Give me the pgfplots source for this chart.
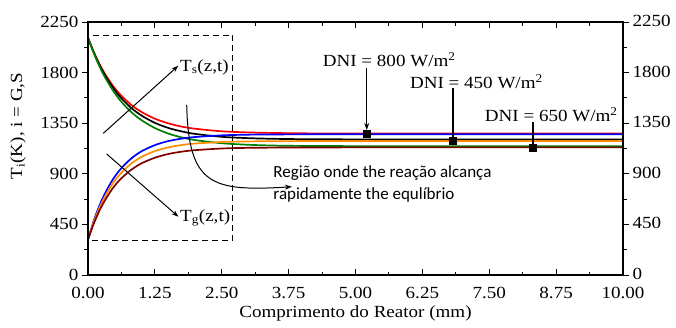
\documentclass[border=0pt]{standalone}
\usepackage{fontspec}
\setmainfont{Liberation Serif}[FakeStretch=1.12]
\newfontfamily\calib{Carlito}
\usepackage{pgfplots}
\pgfplotsset{compat=1.18}
\usetikzlibrary{arrows.meta}
\definecolor{corange}{RGB}{255,140,0}
\definecolor{cbrown}{RGB}{128,0,0}
\definecolor{cgreen}{RGB}{0,128,0}
\newcommand{\fs}{\fontsize{17}{20}\selectfont}
\pgfplotsset{base/.style={scale only axis, width=535pt, height=253pt,
  xmin=0, xmax=10, ymin=0, ymax=2250, at={(0,0)}, anchor=south west,
  tick label style={font=\fs}, /pgf/number format/assume math mode=true,
  /pgf/number format/1000 sep={},
  major tick length=6pt, minor tick length=3.5pt,
  every tick/.style={black, line width=0.9pt},
  axis line style={line width=1.1pt}}}
\begin{document}
\begin{tikzpicture}
\begin{axis}[base, tick align=inside,
  xtick={0,1.25,2.5,3.75,5,6.25,7.5,8.75,10},
  xticklabels={0.00,1.25,2.50,3.75,5.00,6.25,7.50,8.75,10.00},
  minor x tick num=1, ytick=\empty,
  xticklabel style={anchor=center, yshift=-17.5pt},
  xlabel={Comprimento do Reator (mm)},
  xlabel style={font=\fs, at={(axis description cs:0.5,-0.152)}, anchor=center},
  clip=false]
% T_s curves
\addplot[red, line width=1.7pt, smooth] coordinates {(0,2110) (0.1,1992) (0.2,1890) (0.3,1802) (0.45,1693) (0.6,1606) (0.8,1516) (1.0,1450) (1.25,1390) (1.5,1349) (1.75,1320) (2.0,1301) (2.5,1278) (3.0,1268) (3.5,1263) (4.0,1260) (5.0,1258) (6.0,1258) (8.0,1258) (10.0,1258)};
\addplot[black, line width=1.7pt, smooth] coordinates {(0,2110) (0.1,1988) (0.2,1882) (0.3,1791) (0.45,1677) (0.6,1584) (0.8,1489) (1.0,1418) (1.25,1353) (1.5,1308) (1.75,1277) (2.0,1255) (2.5,1229) (3.0,1217) (3.5,1211) (4.0,1208) (5.0,1206) (6.0,1205) (8.0,1205) (10.0,1205)};
\addplot[cgreen, line width=1.7pt, smooth] coordinates {(0,2110) (0.1,1982) (0.2,1870) (0.3,1773) (0.45,1653) (0.6,1554) (0.8,1453) (1.0,1377) (1.25,1307) (1.5,1258) (1.75,1224) (2.0,1200) (2.5,1172) (3.0,1158) (3.5,1151) (4.0,1148) (5.0,1146) (6.0,1145) (8.0,1145) (10.0,1145)};
% T_g curves
\addplot[blue, line width=1.7pt, smooth] coordinates {(0,315) (0.1,471) (0.2,601) (0.3,709) (0.45,839) (0.6,937) (0.8,1033) (1.0,1100) (1.25,1155) (1.5,1191) (1.75,1213) (2.0,1227) (2.5,1242) (3.0,1248) (3.5,1250) (4.0,1251) (5.0,1252) (6.0,1252) (8.0,1252) (10.0,1252)};
\addplot[corange, line width=1.7pt, smooth] coordinates {(0,315) (0.1,461) (0.2,582) (0.3,683) (0.45,805) (0.6,897) (0.8,988) (1.0,1050) (1.25,1102) (1.5,1135) (1.75,1156) (2.0,1169) (2.5,1183) (3.0,1188) (3.5,1190) (4.0,1191) (5.0,1192) (6.0,1192) (8.0,1192) (10.0,1192)};
\addplot[cbrown, line width=1.7pt, smooth] coordinates {(0,315) (0.1,447) (0.2,558) (0.3,650) (0.45,763) (0.6,849) (0.8,933) (1.0,993) (1.25,1043) (1.5,1076) (1.75,1097) (2.0,1110) (2.5,1125) (3.0,1131) (3.5,1133) (4.0,1134) (5.0,1135) (6.0,1135) (8.0,1135) (10.0,1135)};
% markers
\addplot[only marks, mark=square*, mark size=3.5pt, black] coordinates {(5.21,1255) (6.82,1192) (8.32,1135)};
% dashed box
\draw[line width=1pt, dash pattern=on 6pt off 4pt] (axis cs:0,305) rectangle (axis cs:2.71,2130);
% T labels and arrows
\draw[-{Stealth[length=7pt,width=5pt]}, line width=1pt] (axis cs:0.286,1260) -- (axis cs:1.688,1861);
\node[anchor=west, font=\fs, inner sep=1pt] at (axis cs:1.70,1850) {T\textsubscript{s}(z,t)};
\draw[-{Stealth[length=7pt,width=5pt]}, line width=1pt] (axis cs:0.35,1076) -- (axis cs:1.69,518);
\node[anchor=west, font=\fs, inner sep=1pt] at (axis cs:1.70,507) {T\textsubscript{g}(z,t)};
% DNI labels
\node[font=\fs] at (axis cs:5.63,1912) {DNI = 800 W/m\textsuperscript{2}};
\draw[-{Stealth[length=7pt,width=5pt]}, line width=1pt] (axis cs:5.21,1841) -- (axis cs:5.21,1290);
\node[font=\fs] at (axis cs:7.26,1716) {DNI = 450 W/m\textsuperscript{2}};
\draw[line width=1.3pt] (axis cs:6.82,1663) -- (axis cs:6.82,1200);
\node[font=\fs] at (axis cs:8.66,1423) {DNI = 650 W/m\textsuperscript{2}};
\draw[line width=1.3pt] (axis cs:8.32,1361) -- (axis cs:8.32,1140);
% region
\draw[-{Stealth[length=7pt,width=5pt]}, line width=1pt] (axis cs:1.845,1512) .. controls (axis cs:1.88,800) and (axis cs:2.3,740) .. (axis cs:3.81,785);
\node[anchor=west, align=left, font=\calib\fontsize{17}{22}\selectfont] at (axis cs:3.40,809) {Região onde the reação alcança\\rapidamente the equlíbrio};
\end{axis}
\begin{axis}[base, axis y line*=left, axis x line=none, tick align=outside,
  ytick={0,450,900,1350,1800,2250}, minor y tick num=1,
  ylabel={T\textsubscript{i}(K), i = G,S},
  ylabel style={font=\fs, at={(axis description cs:-0.131,0.589)}, rotate=0, anchor=center}]
\end{axis}
\begin{axis}[base, axis y line*=right, axis x line=none, tick align=outside,
  ytick={0,450,900,1350,1800,2250}, minor y tick num=1,
  yticklabel style={yshift=1pt}]
\end{axis}
\pgfresetboundingbox
\path[use as bounding box] (-88pt,-52pt) rectangle (588pt,275pt);
\end{tikzpicture}
\end{document}
